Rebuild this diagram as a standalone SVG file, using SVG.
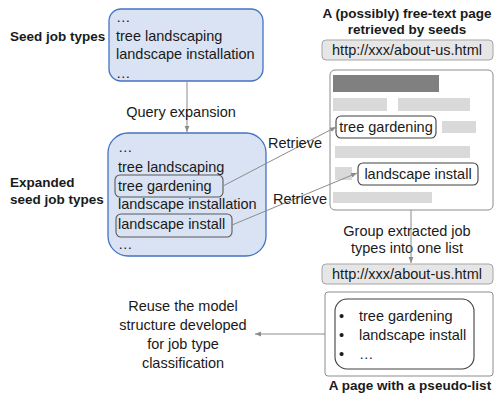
<svg xmlns="http://www.w3.org/2000/svg" width="494" height="398" viewBox="0 0 494 398">
<style>
text{font-family:"Liberation Sans",Arial,sans-serif;font-size:14.5px;fill:#1a1a1a}
.b{font-weight:bold;font-size:13.5px}
.c{text-anchor:middle}
.blue{fill:#dae3f3;stroke:#4472c4;stroke-width:1.3}
.tag{fill:none;stroke:#595959;stroke-width:1.1}
.wtag{fill:#fff;stroke:#404040;stroke-width:1.1}
.url{fill:#e7e6e6;stroke:#a6a6a6;stroke-width:1}
.page{fill:#fff;stroke:#8c8c8c;stroke-width:1}
.lt{fill:#d9d9d9}
.dk{fill:#808080}
.con{stroke:#8c8c8c;stroke-width:1;fill:none;marker-end:url(#ah)}
</style>
<defs>
<marker id="ah" viewBox="0 0 10 10" refX="10" refY="5" markerWidth="6" markerHeight="6" markerUnits="userSpaceOnUse" orient="auto">
<path d="M0,1 L10,5 L0,9 z" fill="#8c8c8c"/>
</marker>
</defs>
<rect width="494" height="398" fill="#fff"/>

<g id="seed">
<text class="b" x="10" y="41">Seed job types</text>
<rect class="blue" x="109" y="9" width="154" height="72" rx="12"/>
<text x="116" y="22">…</text>
<text x="116" y="41">tree landscaping</text>
<text x="116" y="59">landscape installation</text>
<text x="116" y="78">…</text>
</g>

<g id="expanded">
<text class="b" x="10" y="187">Expanded</text>
<text class="b" x="10" y="204">seed job types</text>
<rect class="blue" x="108" y="133" width="158" height="123" rx="20"/>
<text x="118" y="152">…</text>
<text x="118" y="172">tree landscaping</text>
<rect class="tag" x="115" y="175" width="108" height="22" rx="5"/>
<text x="118" y="191">tree gardening</text>
<text x="118" y="209">landscape installation</text>
<rect class="tag" x="116" y="214" width="116" height="23" rx="5"/>
<text x="118" y="229">landscape install</text>
<text x="118" y="249">…</text>
</g>

<g id="freepage">
<text class="b c" x="407" y="18">A (possibly) free-text page</text>
<text class="b c" x="407" y="34">retrieved by seeds</text>
<rect class="url" x="322" y="40" width="171" height="20" rx="4"/>
<text class="c" x="407" y="55">http://xxx/about-us.html</text>
<rect class="page" x="330" y="70" width="163" height="140" rx="5"/>
<rect class="dk" x="333" y="75" width="106" height="17"/>
<rect class="lt" x="333" y="98" width="54" height="13"/>
<rect class="lt" x="398" y="98" width="72" height="13"/>
<rect class="lt" x="442" y="121" width="34" height="12"/>
<rect class="lt" x="335" y="146" width="135" height="12"/>
<rect class="lt" x="335" y="167" width="17" height="13"/>
<rect class="lt" x="333" y="192" width="99" height="11"/>
<rect class="wtag" x="336" y="116" width="100" height="22" rx="5"/>
<text class="c" x="386" y="132">tree gardening</text>
<rect class="wtag" x="358" y="163" width="120" height="22" rx="5"/>
<text class="c" x="418" y="179">landscape install</text>
</g>

<g id="group-label">
<text class="c" x="407" y="236">Group extracted job</text>
<text class="c" x="407" y="253">types into one list</text>
</g>

<g id="pseudolist">
<rect class="url" x="322" y="264" width="171" height="20" rx="4"/>
<text class="c" x="407" y="279">http://xxx/about-us.html</text>
<rect class="page" x="325" y="292" width="168" height="84" rx="3"/>
<rect class="wtag" x="335" y="299" width="139" height="70" rx="12"/>
<text x="339" y="321">•</text>
<text x="359" y="321">tree gardening</text>
<text x="339" y="340">•</text>
<text x="359" y="340">landscape install</text>
<text x="339" y="359">•</text>
<text x="359" y="359">…</text>
<text class="b c" x="410" y="390">A page with a pseudo-list</text>
</g>

<g id="reuse">
<text class="c" x="183" y="311">Reuse the model</text>
<text class="c" x="183" y="330">structure developed</text>
<text class="c" x="183" y="349">for job type</text>
<text class="c" x="183" y="368">classification</text>
</g>

<g id="connectors">
<line class="con" x1="187" y1="81" x2="187" y2="132"/>
<text class="c" x="181" y="117">Query expansion</text>
<line class="con" x1="223" y1="186" x2="336" y2="127"/>
<text x="268" y="148">Retrieve</text>
<line class="con" x1="232" y1="225" x2="357" y2="173"/>
<text x="273" y="204">Retrieve</text>
<line class="con" x1="411" y1="210" x2="411" y2="263"/>
<line class="con" x1="325" y1="334" x2="255" y2="334"/>
</g>
</svg>
